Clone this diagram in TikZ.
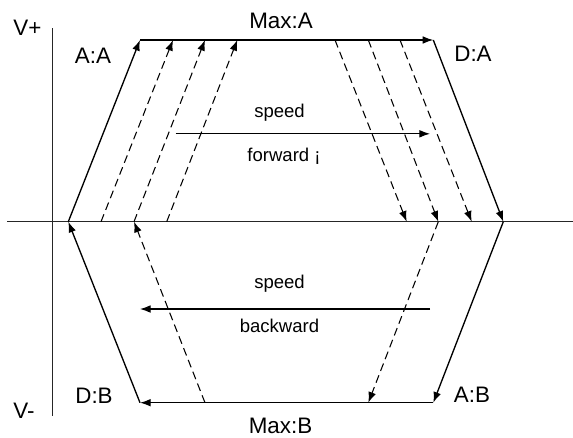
\documentclass[tikz,border=0pt]{standalone}
\usepackage{fontspec}
\setmainfont{Liberation Sans}
\usetikzlibrary{arrows.meta}
\begin{document}
\begin{tikzpicture}[x=0.75pt,y=-0.75pt,
  axis/.style={line width=0.75pt,black!85},
  solidarrow/.style={line width=1pt,-{Latex[length=8pt,width=5.8pt]}},
  dasharrow/.style={line width=0.8pt,dash pattern=on 6pt off 3.5pt,-{Latex[length=8pt,width=5.8pt]}},
  biglabel/.style={font=\fontsize{16.8pt}{19pt}\selectfont,inner sep=0pt},
  smalllabel/.style={font=\fontsize{13.9pt}{16pt}\selectfont,inner sep=0pt}]
\useasboundingbox (0,0) rectangle (573,437);
% axes
\coordinate (hl) at (7,221.7);
\coordinate (hr) at (573,221.7);
\coordinate (vt) at (52.3,28);
\coordinate (vb) at (52.3,416);
\draw[axis] (hl) -- (hr);
\draw[axis] (vt) -- (vb);
% key points
\coordinate (o1) at (68.3,221.7);
\coordinate (o2) at (101,221.7);
\coordinate (o3) at (134,221.7);
\coordinate (o4) at (166.7,221.7);
\coordinate (t1) at (140,40);
\coordinate (t2) at (173,40);
\coordinate (t3) at (205,40);
\coordinate (t4) at (237.3,40);
\coordinate (d1) at (335,40);
\coordinate (d2) at (368.3,40);
\coordinate (d3) at (400,40);
\coordinate (d4) at (433.3,40);
\coordinate (e1) at (406.7,221.7);
\coordinate (e2) at (438.3,221.7);
\coordinate (e3) at (471.7,221.7);
\coordinate (e4) at (503.3,221.7);
\coordinate (b1) at (140,402.7);
\coordinate (b2) at (205,402.7);
\coordinate (b3) at (368.3,402.7);
\coordinate (b4) at (433.3,402.7);
% top (forward)
\draw[solidarrow] (o1) -- (t1);
\draw[dasharrow] (o2) -- (t2);
\draw[dasharrow] (o3) -- (t3);
\draw[dasharrow] (o4) -- (t4);
\draw[solidarrow] (t1) -- (d4);
\draw[dasharrow] (d1) -- (e1);
\draw[dasharrow] (d2) -- (e2);
\draw[dasharrow] (d3) -- (e3);
\draw[solidarrow] (d4) -- (e4);
% bottom (backward)
\draw[solidarrow] (e4) -- (b4);
\draw[dasharrow] (e2) -- (b3);
\draw[solidarrow] (b4) -- (b1);
\draw[solidarrow] (b1) -- (o1);
\draw[dasharrow] (b2) -- (o3);
% speed arrows
\coordinate (fs) at (175.7,133.8);
\coordinate (fe) at (430,133.8);
\draw[solidarrow,line width=0.8pt] (fs) -- (fe);
\coordinate (bs) at (430,309);
\coordinate (be) at (140,309);
\draw[solidarrow,line width=0.8pt] (bs) -- (be);
% labels
\node[biglabel] (vplus) at (27.5,28) {V+};
\node[biglabel] (aa) at (93,55.5) {A:A};
\node[biglabel] (maxa) at (281,20.5) {Max:A};
\node[biglabel] (da) at (473,53.5) {D:A};
\node[biglabel] (db) at (94,396) {D:B};
\node[biglabel] (vminus) at (24,411) {V-};
\node[biglabel] (maxb) at (280.5,425.5) {Max:B};
\node[biglabel] (ab) at (472,395) {A:B};
\node[smalllabel,anchor=base] (sp1) at (279.5,117) {speed};
\node[smalllabel,anchor=base] (fw) at (284,161) {forward ¡};
\node[smalllabel,anchor=base] (sp2) at (279.5,288) {speed};
\node[smalllabel,anchor=base] (bw) at (279.5,332) {backward};
\end{tikzpicture}
\end{document}
